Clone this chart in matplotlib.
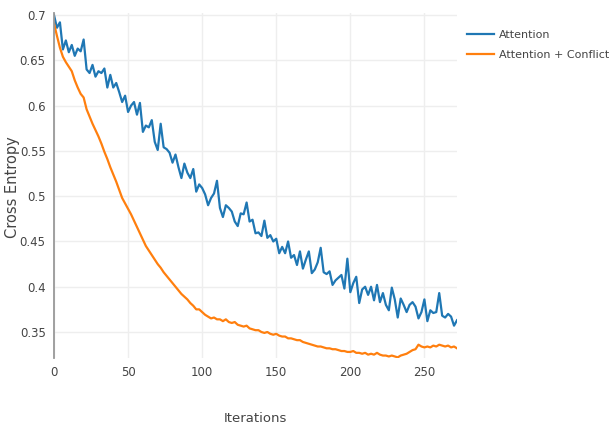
import numpy as np
import matplotlib
matplotlib.use("Agg")
import matplotlib.pyplot as plt

# Attention: one reading every 2 iterations
attn_iter = list(range(0, 273, 2))
attn_ce = [
    0.700, 0.686, 0.692, 0.662, 0.672, 0.659, 0.667, 0.655, 0.663, 0.660,
    0.673, 0.640, 0.636, 0.645, 0.632, 0.638, 0.636, 0.641, 0.620, 0.634,
    0.620, 0.625, 0.615, 0.604, 0.611, 0.593, 0.600, 0.604, 0.590, 0.603,
    0.571, 0.578, 0.576, 0.584, 0.560, 0.551, 0.580, 0.554, 0.552, 0.548,
    0.537, 0.546, 0.532, 0.520, 0.536, 0.526, 0.520, 0.530, 0.505, 0.513,
    0.509, 0.502, 0.490, 0.498, 0.503, 0.517, 0.487, 0.477, 0.490, 0.487,
    0.483, 0.472, 0.467, 0.481, 0.480, 0.493, 0.472, 0.474, 0.459, 0.460,
    0.456, 0.473, 0.454, 0.457, 0.450, 0.453, 0.437, 0.444, 0.437, 0.450,
    0.432, 0.435, 0.424, 0.439, 0.420, 0.430, 0.439, 0.415, 0.419, 0.427,
    0.443, 0.416, 0.414, 0.417, 0.402, 0.407, 0.410, 0.413, 0.398, 0.431,
    0.394, 0.404, 0.411, 0.382, 0.397, 0.400, 0.391, 0.400, 0.385, 0.402,
    0.383, 0.393, 0.380, 0.374, 0.399, 0.386, 0.366, 0.387, 0.380, 0.372,
    0.380, 0.383, 0.378, 0.365, 0.372, 0.386, 0.362, 0.374, 0.371, 0.372,
    0.393, 0.368, 0.366, 0.370, 0.367, 0.357, 0.363,
]

# Attention + Conflict
conf_iter = list(range(0, 273, 2))
conf_ce = [
    0.691, 0.677, 0.664, 0.654, 0.648, 0.643, 0.638, 0.628, 0.620, 0.613,
    0.609, 0.596, 0.588, 0.580, 0.573, 0.566, 0.558, 0.549, 0.541, 0.532,
    0.524, 0.516, 0.507, 0.498, 0.492, 0.486, 0.480, 0.473, 0.466, 0.459,
    0.452, 0.445, 0.440, 0.435, 0.430, 0.425, 0.421, 0.416, 0.412, 0.408,
    0.404, 0.400, 0.396, 0.392, 0.389, 0.386, 0.382, 0.379, 0.375, 0.375,
    0.372, 0.369, 0.367, 0.365, 0.366, 0.364, 0.364, 0.362, 0.364, 0.361,
    0.360, 0.361, 0.358, 0.357, 0.356, 0.357, 0.354, 0.353, 0.352, 0.352,
    0.350, 0.349, 0.350, 0.348, 0.347, 0.348, 0.346, 0.345, 0.345, 0.343,
    0.343, 0.342, 0.341, 0.341, 0.339, 0.338, 0.337, 0.336, 0.335, 0.334,
    0.334, 0.333, 0.332, 0.332, 0.331, 0.331, 0.330, 0.329, 0.329, 0.328,
    0.328, 0.329, 0.327, 0.327, 0.326, 0.327, 0.325, 0.326, 0.325, 0.327,
    0.325, 0.324, 0.324, 0.323, 0.324, 0.323, 0.322, 0.324, 0.325, 0.326,
    0.328, 0.330, 0.331, 0.336, 0.334, 0.333, 0.334, 0.333, 0.335, 0.334,
    0.336, 0.335, 0.334, 0.335, 0.333, 0.334, 0.332,
]

x_ticks = [0, 50, 100, 150, 200, 250]
y_ticks = [0.35, 0.4, 0.45, 0.5, 0.55, 0.6, 0.65, 0.7]
y_tick_labels = ["0.35", "0.4", "0.45", "0.5", "0.55", "0.6", "0.65", "0.7"]

plt.rcParams["font.family"] = ["DejaVu Sans"]

W, H = 613, 428
fig = plt.figure(figsize=(W / 100, H / 100), dpi=100)
ax = fig.add_axes([54 / W, 70 / H, (457 - 54) / W, (358 - 13) / H])

ax.plot(attn_iter, attn_ce, color="#1f77b4", lw=1.6, label="Attention")
ax.plot(conf_iter, conf_ce, color="#ff7f0e", lw=1.6, label="Attention + Conflict")

ax.set_xlim(0, 272)
ax.set_ylim(0.3213, 0.7023)
ax.set_xticks(x_ticks)
ax.set_yticks(y_ticks)
ax.set_yticklabels(y_tick_labels)
ax.grid(True, color="#eeeeee", lw=1)
ax.set_axisbelow(True)

for side in ["top", "right", "bottom"]:
    ax.spines[side].set_visible(False)
ax.spines["left"].set_color("#999999")
ax.spines["left"].set_linewidth(1.3)
ax.tick_params(length=0, colors="#444444", labelsize=8.5, pad=6)

# axis titles placed in figure pixels, like the reference
fig.text(255 / W, 1 - 418 / H, "Iterations", fontsize=9.5, color="#444444",
         ha="center", va="center")
fig.text(13 / W, 1 - 187 / H, "Cross Entropy", fontsize=10.5, color="#444444",
         ha="center", va="center", rotation=90)

leg = ax.legend(loc="upper left", bbox_to_anchor=(1.015, 0.965), frameon=False,
                fontsize=8, handlelength=2.4, handletextpad=0.45,
                labelspacing=0.95, borderaxespad=0)
for t in leg.get_texts():
    t.set_color("#444444")

fig.savefig("out.png", dpi=100)
